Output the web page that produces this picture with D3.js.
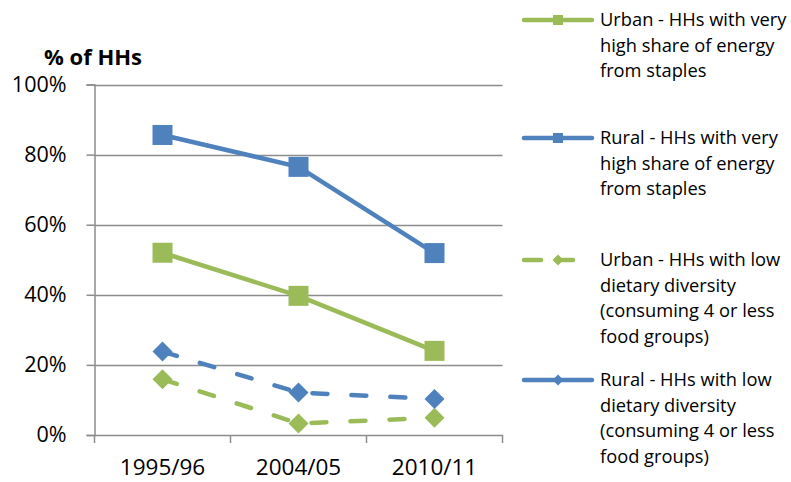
<!DOCTYPE html>
<html>
<head>
<meta charset="utf-8">
<script src="https://cdn.jsdelivr.net/npm/d3@7"></script>
<style>
  body { margin: 0; background: #fff; }
  svg { display: block; font-family: "Open Sans", sans-serif; }
</style>
</head>
<body>
<div id="chart"></div>
<script>
// data
var years = ["1995/96", "2004/05", "2010/11"];
var urbanStaples = [52.0, 39.7, 24.0];
var ruralStaples = [85.6, 76.5, 51.9];
var urbanLowDiv = [15.9, 3.3, 4.9];
var ruralLowDiv = [23.8, 12.1, 10.3];
var yTicks = [0, 20, 40, 60, 80, 100];
var legendLabels = [
    ["Urban - HHs with very", "high share of energy", "from staples"],
    ["Rural - HHs with very", "high share of energy", "from staples"],
    ["Urban - HHs with low", "dietary diversity", "(consuming 4 or less", "food groups)"],
    ["Rural - HHs with low", "dietary diversity", "(consuming 4 or less", "food groups)"]
];

var green = "#9BBB59", blue = "#4F81BD";
var series = [
    { values: urbanStaples, color: green, dashed: false, legendDash: null, marker: "square" },
    { values: ruralStaples, color: blue, dashed: false, legendDash: null, marker: "square" },
    { values: urbanLowDiv, color: green, dashed: true, legendDash: "17,15", marker: "diamond" },
    // the legend sample of this one is drawn solid in the original
    { values: ruralLowDiv, color: blue, dashed: true, legendDash: null, marker: "diamond" }
];

var width = 791, height = 482;
var svg = d3.select("#chart").append("svg").attr("width", width).attr("height", height);

var x = d3.scaleBand().domain(years).range([94.5, 502.5]);
var y = d3.scaleLinear().domain([0, 100]).range([435, 84.5]);

// gridlines
svg.append("g").selectAll("line").data(yTicks.filter(function (d) { return d > 0; })).enter().append("line")
    .attr("x1", 94.5).attr("x2", 502.5)
    .attr("y1", function (d) { return Math.round(y(d)) + 0.5; })
    .attr("y2", function (d) { return Math.round(y(d)) + 0.5; })
    .attr("stroke", "#8c8c8c").attr("stroke-width", 1.5);

// y axis
var yAxis = svg.append("g").attr("transform", "translate(94.5,0)")
    .call(d3.axisLeft(y).tickValues(yTicks).tickSize(8).tickPadding(20)
        .tickFormat(function (d) { return d + "%"; }));
yAxis.select(".domain").attr("stroke", "#8c8c8c").attr("stroke-width", 1.5);
yAxis.selectAll(".tick line").attr("stroke", "#8c8c8c").attr("stroke-width", 1.5);
yAxis.selectAll("text").attr("font-size", 21.5).attr("fill", "#000")
    .attr("font-family", "Open Sans, sans-serif");

// x axis
var xAxis = svg.append("g").attr("transform", "translate(0," + (y(0)) + ")")
    .call(d3.axisBottom(x).tickSize(0).tickPadding(24));
xAxis.select(".domain").attr("stroke", "#8c8c8c").attr("stroke-width", 1.5);
xAxis.selectAll("text").attr("font-size", 22.5).attr("fill", "#000")
    .attr("font-family", "Open Sans, sans-serif");
// category boundary ticks
xAxis.append("g").selectAll("line").data(years.concat(["end"])).enter().append("line")
    .attr("x1", function (d, i) { return i < years.length ? x(d) : x.range()[1]; })
    .attr("x2", function (d, i) { return i < years.length ? x(d) : x.range()[1]; })
    .attr("y1", 0).attr("y2", 8)
    .attr("stroke", "#8c8c8c").attr("stroke-width", 1.5);

// title
svg.append("text").attr("x", 44).attr("y", 65).attr("font-size", 22).attr("font-weight", "bold")
    .text("% of HHs");

var cx = function (i) { return x(years[i]) + x.bandwidth() / 2; };
var line = d3.line().x(function (d, i) { return cx(i); }).y(function (d) { return y(d); });

function drawMarker(g, type, px, py, size, color) {
    if (type === "square") {
        g.append("rect").attr("x", px - size / 2).attr("y", py - size / 2)
            .attr("width", size).attr("height", size).attr("fill", color);
    } else {
        var h = size / 2;
        g.append("path").attr("d", "M" + px + "," + (py - h) + "L" + (px + h) + "," + py +
            "L" + px + "," + (py + h) + "L" + (px - h) + "," + py + "Z").attr("fill", color);
    }
}

series.forEach(function (s) {
    var g = svg.append("g");
    g.append("path").datum(s.values).attr("d", line)
        .attr("fill", "none").attr("stroke", s.color).attr("stroke-width", 4.5)
        .attr("stroke-linecap", "round").attr("stroke-linejoin", "round")
        .attr("stroke-dasharray", s.dashed ? "15,24" : null);
    s.values.forEach(function (v, i) {
        drawMarker(g, s.marker, cx(i), y(v), 20, s.color);
    });
});

// legend
var legendY = [20, 138, 260, 380];
var lg = svg.append("g");
series.forEach(function (s, k) {
    var g = lg.append("g").attr("transform", "translate(0," + legendY[k] + ")");
    g.append("line").attr("x1", 524).attr("x2", s.legendDash ? 583 : 592).attr("y1", 0).attr("y2", 0)
        .attr("stroke", s.color).attr("stroke-width", 4.5).attr("stroke-linecap", "round")
        .attr("stroke-dasharray", s.legendDash);
    drawMarker(g, s.marker, 558, 0, s.marker === "square" ? 10 : 11, s.color);
    legendLabels[k].forEach(function (t, j) {
        g.append("text").attr("x", 600).attr("y", j * 25.5).attr("dy", "0.35em")
            .attr("font-size", 18.3).attr("fill", "#000").text(t);
    });
});
</script>
</body>
</html>
